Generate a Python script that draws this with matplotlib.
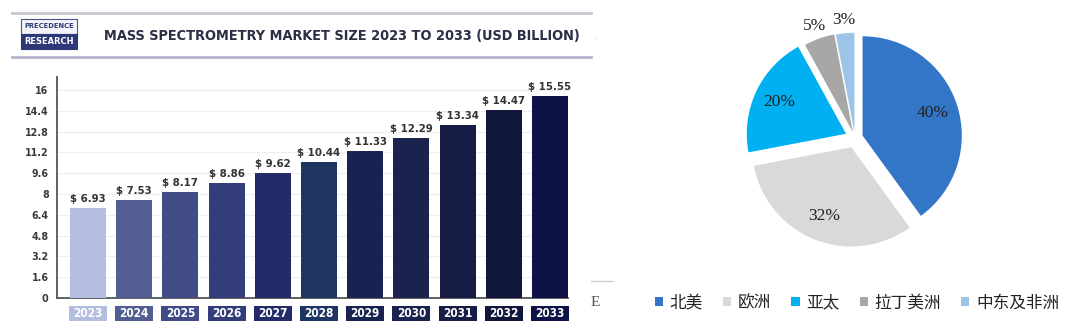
import matplotlib.pyplot as plt
import matplotlib.font_manager as fm
from matplotlib.patches import Rectangle, Patch
from matplotlib.lines import Line2D
import numpy as np

# left panel: market size by year (USD billion)
years = ["2023", "2024", "2025", "2026", "2027", "2028",
         "2029", "2030", "2031", "2032", "2033"]
market_size = [6.93, 7.53, 8.17, 8.86, 9.62, 10.44, 11.33, 12.29, 13.34, 14.47, 15.55]
bar_colors = ["#b3bde0", "#525d92", "#414b86", "#333d7a", "#242b69", "#1f3561",
              "#182352", "#19234d", "#151d45", "#10173a", "#0d1346"]
y_ticks = [0, 1.6, 3.2, 4.8, 6.4, 8, 9.6, 11.2, 12.8, 14.4, 16]

# right panel: share by region
regions = ["北美", "欧洲", "亚太", "拉丁美洲", "中东及非洲"]
shares = [40, 32, 20, 5, 3]
pie_colors = ["#3375c6", "#d9d9d9", "#00b0f0", "#a9a6a6", "#9dc3e6"]
explode = [0.08, 0.1, 0.1, 0.065, 0.06]

W, H = 1080, 330
serif = ["Liberation Serif", "DejaVu Serif"]
cjk = ["Noto Sans CJK SC", "DejaVu Sans"]


def is_bold(f):
    return str(f.weight) in ("bold", "700", "800", "900", "heavy", "black")


def is_narrow(f):
    return ("Narrow" in f.name or "Condensed" in f.name
            or str(f.stretch) in ("condensed", "semi-condensed"))


# the original uses a bold condensed face; pick the closest one installed
narrow, stretch, have_narrow = "DejaVu Sans", "normal", False
cands = [f for f in fm.fontManager.ttflist if is_narrow(f) and is_bold(f)]
cands.sort(key=lambda f: (f.name != "Liberation Sans Narrow", f.name != "DejaVu Sans"))
if cands:
    narrow, have_narrow = cands[0].name, True
    stretch = str(cands[0].stretch)
k = 1.0 if have_narrow else 0.78
nfont = dict(family=[narrow, "DejaVu Sans"], fontstretch=stretch, fontweight="bold")


def fx(px):
    return px / W


def fy(py):
    return 1 - py / H


fig = plt.figure(figsize=(10.8, 3.3), dpi=100)
fig.patch.set_facecolor("white")
renderer = fig.canvas.get_renderer()


def fit(txt, width_px):
    # shrink a text so it spans the given width
    w = txt.get_window_extent(renderer).width
    txt.set_fontsize(txt.get_fontsize() * width_px / w)


# header lines, logo and title
fig.add_artist(Line2D([fx(12), fx(591)], [fy(13), fy(13)], color="#c9c9d2", lw=2))
fig.add_artist(Line2D([fx(12), fx(591)], [fy(57), fy(57)], color="#b4b6cc", lw=2))
fig.add_artist(Rectangle((fx(21), fy(34)), fx(56), fy(19) - fy(34),
                         facecolor="#f4f4f8", edgecolor="#4a5590", lw=0.8))
fig.add_artist(Rectangle((fx(21), fy(49)), fx(56), fy(34) - fy(49),
                         facecolor="#2d3878", edgecolor="#2d3878", lw=0.8))
t1 = fig.text(fx(49), fy(26.5), "PRECEDENCE", ha="center", va="center",
              fontsize=6, color="#2d3878", **nfont)
t2 = fig.text(fx(49), fy(41.5), "RESEARCH", ha="center", va="center",
              fontsize=7, color="white", **nfont)
fit(t1, 50)
fit(t2, 50)
title = fig.text(fx(104), fy(36),
                 "MASS SPECTROMETRY MARKET SIZE 2023 TO 2033 (USD BILLION)",
                 ha="left", va="center", fontsize=14, color="#2b2f45", **nfont)
fit(title, 479)
fig.text(fx(593), fy(37), ".", ha="left", va="center", fontsize=5, color="#99a")

# bar chart
ax = fig.add_axes([fx(57), fy(298), fx(568 - 57), (298 - 77) / H])
x = np.arange(len(years))
ax.bar(x, market_size, width=0.78, color=bar_colors, zorder=3)
ax.set_xlim(-0.67, 10.39)
ax.set_ylim(0, 17.0)
ax.set_yticks(y_ticks)
ax.set_yticklabels([f"{t:g}" for t in y_ticks], fontsize=7.7 * k,
                   color="#3a3a3a", **nfont)
ax.set_xticks([])
ax.tick_params(axis="y", length=0, pad=6)
ax.grid(axis="y", color="#eeeeee", lw=0.8, zorder=0)
for s in ["top", "right"]:
    ax.spines[s].set_visible(False)
for s in ["left", "bottom"]:
    ax.spines[s].set_color("#555555")
    ax.spines[s].set_linewidth(1.3)

for xi, v, c, yr in zip(x, market_size, bar_colors, years):
    ax.text(xi, v + 0.3, f"$ {v:.2f}", ha="center", va="bottom",
            fontsize=8.2 * k, color="#333333", **nfont)
    ax.add_patch(Rectangle((xi - 0.41, -0.104), 0.82, 0.068, facecolor=c,
                           edgecolor="none", transform=ax.get_xaxis_transform(),
                           clip_on=False))
    ax.text(xi, -0.07, yr, ha="center", va="center", fontsize=8.5 * k,
            color="white", transform=ax.get_xaxis_transform(), **nfont)

# leftover bits of the cropped screenshot
fig.add_artist(Line2D([fx(591), fx(613)], [fy(281), fy(281)], color="#cfcfcf", lw=1))
fig.text(fx(591), fy(302), "E", ha="left", va="center", family=serif,
         fontsize=11, color="#555555")

# pie chart
pax = fig.add_axes([fx(855 - 134), fy(138 + 134), fx(268), 268 / H])
wedges, _ = pax.pie(shares, colors=pie_colors, explode=explode, startangle=90,
                    counterclock=False, radius=1.0,
                    wedgeprops=dict(edgecolor="none"))
pax.set_xlim(-1.35, 1.35)
pax.set_ylim(-1.35, 1.35)
pax.set_aspect("equal")
pax.axis("off")
for w, s in zip(wedges, shares):
    mid = np.deg2rad((w.theta1 + w.theta2) / 2)
    d = 0.74 if s >= 10 else 1.13
    cx, cy = w.center
    pax.text(cx + d * np.cos(mid), cy + d * np.sin(mid), f"{s}%", ha="center",
             va="center", family=serif, fontsize=12.5, color="#222222")

handles = [Patch(facecolor=c, edgecolor="none") for c in pie_colors]
fig.legend(handles, regions, loc="center", bbox_to_anchor=(fx(857), fy(303)),
           ncol=5, frameon=False, handlelength=0.5, handleheight=0.5,
           handletextpad=0.4, columnspacing=1.2,
           prop=dict(family=cjk, size=12))
for t in fig.legends[0].get_texts():
    t.set_color("#222222")

fig.savefig("out.png", dpi=100)
